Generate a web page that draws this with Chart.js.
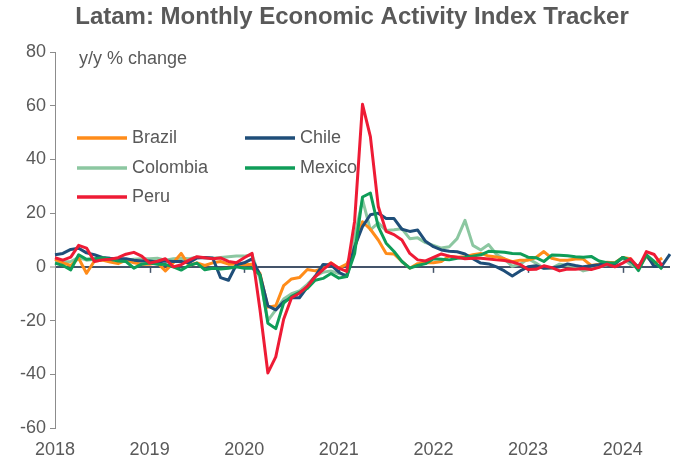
<!DOCTYPE html>
<html>
<head>
<meta charset="utf-8">
<script src="https://cdn.jsdelivr.net/npm/chart.js@4.4.1/dist/chart.umd.min.js"></script>
<style>
html,body{margin:0;padding:0;background:#ffffff;}
#wrap{width:696px;height:468px;}
</style>
</head>
<body>
<div id="wrap"><canvas id="c" width="696" height="468"></canvas></div>
<script>
// ---- categories: monthly, Jan 2018 .. Jul 2024 ----
const years = [2018, 2019, 2020, 2021, 2022, 2023, 2024];
const monthsInLastYear = 7;
const labels = [];
years.forEach((yr, k) => {
  const n = (k === years.length - 1) ? monthsInLastYear : 12;
  for (let m = 1; m <= n; m++) labels.push(yr + '-' + String(m).padStart(2, '0'));
});

// ---- series values (y/y % change) ----
const brazil = [
  2.8, 1.5, 0.5, 3.2, -2.4, 2.2, 2.5, 1.8, 1.2, 2.5, 1.5, 1.0,
  1.0, 1.5, -1.5, 1.5, 5.0, 0.5, 1.5, 0.5, 1.5, 2.0, 1.0, 1.0,
  0.8, 1.0, -2.5, -15.0, -14.5, -7.0, -4.5, -4.0, -1.0, -1.5, -0.5, 1.5,
  -0.5, 1.0, 7.0, 16.8, 14.0, 10.0, 5.0, 4.8, 2.0, -0.5, 1.2, 1.5,
  1.5, 2.0, 4.0, 3.6, 3.8, 4.5, 5.0, 4.0, 3.7, 3.0, 1.9, 2.5,
  2.5, 3.5, 5.7, 3.2, 2.5, 2.5, 2.9, 2.9, 0.5, 1.0, 1.7, 1.5,
  3.5, 3.0, -0.8, 4.2, 1.2, 3.3, null
];
const chile = [
  4.5, 5.0, 6.5, 6.9, 5.2, 4.5, 3.5, 3.2, 3.0, 3.0, 2.5, 2.2,
  2.2, 1.8, 2.2, 2.0, 2.0, 1.5, 3.3, 3.5, 3.3, -4.0, -5.0, 0.8,
  1.5, 3.0, -3.0, -14.5, -16.0, -13.0, -11.5, -11.5, -7.5, -3.5, 0.9, 0.7,
  -2.0, -3.6, 7.5, 15.0, 19.4, 20.0, 18.0, 18.0, 14.0, 13.2, 13.7, 9.5,
  7.5, 6.3, 5.8, 5.6, 4.8, 3.0, 1.4, 1.1, 0.0, -1.5, -3.4, -1.5,
  0.0, 0.4, -0.5, -0.3, 0.0, 1.1, 0.5, 0.0, 0.4, 0.8, 1.4, 1.0,
  3.5, 2.0, 0.1, 4.6, 0.1, 0.5, 4.7
];
const colombia = [
  2.0, 1.8, 2.0, 3.5, 2.5, 2.8, 3.0, 2.5, 2.8, 2.6, 2.8, 3.0,
  3.0, 3.2, 2.5, 3.0, 3.2, 3.0, 3.6, 3.4, 3.2, 3.5, 3.8, 4.0,
  4.0, 4.5, -4.5, -20.0, -16.0, -12.0, -10.0, -9.0, -6.5, -3.5, -2.0, -1.5,
  -2.5, -3.0, 11.0, 25.0, 13.8, 16.4, 13.5, 13.8, 14.2, 10.5, 10.8, 9.0,
  8.0, 7.0, 7.5, 10.5, 17.3, 8.0, 6.3, 8.3, 4.6, 3.0, 0.2, 1.0,
  3.0, 1.4, -0.5, -0.5, 1.0, 0.5, 0.0, -1.5, -0.8, 0.0, 0.8, 1.2,
  3.2, 0.8, -0.5, 3.9, 1.0, null, null
];
const mexico = [
  1.4, 0.5, -1.1, 4.5, 2.8, 3.0, 3.4, 2.8, 2.2, 2.0, -0.5, 1.0,
  1.4, 1.0, 0.9, 0.0, -1.2, 0.5, 1.4, -1.1, -0.5, -0.8, -0.5, 0.0,
  -0.5, -0.5, -3.0, -21.0, -23.0, -13.5, -11.0, -9.5, -8.0, -5.0, -4.3, -2.5,
  -4.2, -3.6, 5.0, 26.0, 27.5, 15.0, 8.8, 5.7, 2.0, -0.5, 0.5, 1.2,
  3.0, 2.8, 2.6, 3.2, 3.5, 4.0, 4.5, 5.8, 5.6, 5.4, 5.0, 4.9,
  3.6, 3.4, 2.0, 4.4, 4.3, 4.1, 3.8, 3.6, 3.9, 2.2, 1.5, 1.4,
  3.5, 2.5, -1.4, 4.5, 2.0, -0.9, null
];
const peru = [
  3.4, 2.5, 3.6, 8.0, 7.0, 2.0, 2.6, 2.8, 3.4, 4.7, 5.4, 4.0,
  1.4, 2.1, 3.0, 0.0, 0.8, 2.5, 3.8, 3.4, 3.0, 3.3, 2.0, 1.5,
  3.4, 5.0, -16.0, -39.5, -33.5, -19.5, -11.5, -9.8, -7.3, -3.7, -1.0, 1.4,
  -0.5, -1.7, 17.0, 60.5, 48.5, 22.5, 13.2, 12.0, 10.0, 5.0, 2.6, 2.2,
  3.5, 4.8, 4.0, 3.6, 3.0, 3.2, 3.2, 2.9, 2.6, 2.4, 1.8, 0.9,
  -1.0, -0.9, 0.4, -0.3, -1.5, -0.8, -0.9, -0.6, -1.0, -0.2, 1.0, 0.0,
  1.4, 3.0, -0.3, 5.7, 4.6, 0.5, null
];

// ---- axis / text ----
const yTicks = [-60, -40, -20, 0, 20, 40, 60, 80];
const titleText = 'Latam: Monthly Economic Activity Index Tracker';
const unitText = 'y/y % change';
const seriesNames = ['Brazil', 'Chile', 'Colombia', 'Mexico', 'Peru'];
const seriesColors = ['#FF8C1A', '#1F4E79', '#8CC7A1', '#0F9D58', '#EE1B35'];
const drawOrder = [3, 2, 4, 1, 0];

const TEXT = '#595959';
const FONT = "'Liberation Sans', Arial, sans-serif";

const seriesValues = [brazil, chile, colombia, mexico, peru];
const datasets = seriesNames.map((name, k) => ({
  label: name,
  data: seriesValues[k],
  borderColor: seriesColors[k],
  backgroundColor: seriesColors[k],
  borderWidth: 3,
  pointRadius: 0,
  pointHoverRadius: 0,
  tension: 0,
  fill: false,
  spanGaps: false,
  borderJoinStyle: 'round',
  order: drawOrder[k]
}));

const overlay = {
  id: 'overlay',
  beforeDatasetsDraw(chart) {
    const {ctx, scales: {x, y}} = chart;
    const y0 = y.getPixelForValue(0);
    ctx.save();
    ctx.strokeStyle = '#44546A';
    ctx.lineWidth = 1.5;
    labels.forEach((l, i) => {
      if (l.endsWith('-01') && i > 0) {
        const px = Math.round(x.getPixelForValue(i)) + 0.5;
        ctx.beginPath();
        ctx.moveTo(px, y0);
        ctx.lineTo(px, y0 + 6);
        ctx.stroke();
      }
    });
    ctx.restore();
  },
  afterDraw(chart) {
    const {ctx, chartArea: a} = chart;
    ctx.save();
    // title
    ctx.fillStyle = TEXT;
    ctx.font = 'bold 24px ' + FONT;
    ctx.textAlign = 'center';
    ctx.textBaseline = 'middle';
    ctx.fillText(titleText, 352, 17);
    // unit label
    ctx.font = '18px ' + FONT;
    ctx.textAlign = 'left';
    ctx.fillText(unitText, a.left + 24, a.top + 7);
    // legend: two columns
    const cols = [22, 190];
    const rows = [86, 116, 145];
    chart.data.datasets.forEach((ds, k) => {
      const cx = a.left + cols[k % 2];
      const cy = a.top + rows[Math.floor(k / 2)];
      ctx.strokeStyle = ds.borderColor;
      ctx.lineWidth = 3.5;
      ctx.beginPath();
      ctx.moveTo(cx, cy);
      ctx.lineTo(cx + 50, cy);
      ctx.stroke();
      ctx.fillStyle = TEXT;
      ctx.fillText(ds.label, cx + 55, cy);
    });
    ctx.restore();
  }
};

new Chart(document.getElementById('c'), {
  type: 'line',
  data: {labels: labels, datasets: datasets},
  options: {
    responsive: false,
    animation: false,
    events: [],
    layout: {padding: {left: 0, right: 26, top: 52, bottom: 0}},
    plugins: {
      legend: {display: false},
      tooltip: {enabled: false},
      title: {display: false}
    },
    scales: {
      x: {
        type: 'category',
        offset: false,
        grid: {display: false, drawTicks: false},
        border: {display: false},
        afterFit: (s) => { s.height = 40; },
        ticks: {
          autoSkip: false,
          maxRotation: 0,
          minRotation: 0,
          padding: 11,
          color: TEXT,
          font: {family: FONT, size: 18},
          callback: (v, i) => labels[i].endsWith('-01') ? labels[i].slice(0, 4) : ''
        }
      },
      y: {
        min: yTicks[0],
        max: yTicks[yTicks.length - 1],
        afterBuildTicks: (s) => { s.ticks = yTicks.map(v => ({value: v})); },
        afterFit: (s) => { s.width = 55; },
        border: {display: true, color: '#8C8C8C', width: 1},
        grid: {
          drawOnChartArea: true,
          drawTicks: true,
          tickLength: 5,
          tickColor: '#8C8C8C',
          tickWidth: 1,
          color: (c) => (c.tick && c.tick.value === 0) ? '#44546A' : 'rgba(0,0,0,0)',
          lineWidth: (c) => (c.tick && c.tick.value === 0) ? 2 : 1
        },
        ticks: {
          padding: 4,
          color: TEXT,
          font: {family: FONT, size: 18}
        }
      }
    }
  },
  plugins: [overlay]
});
</script>
</body>
</html>
